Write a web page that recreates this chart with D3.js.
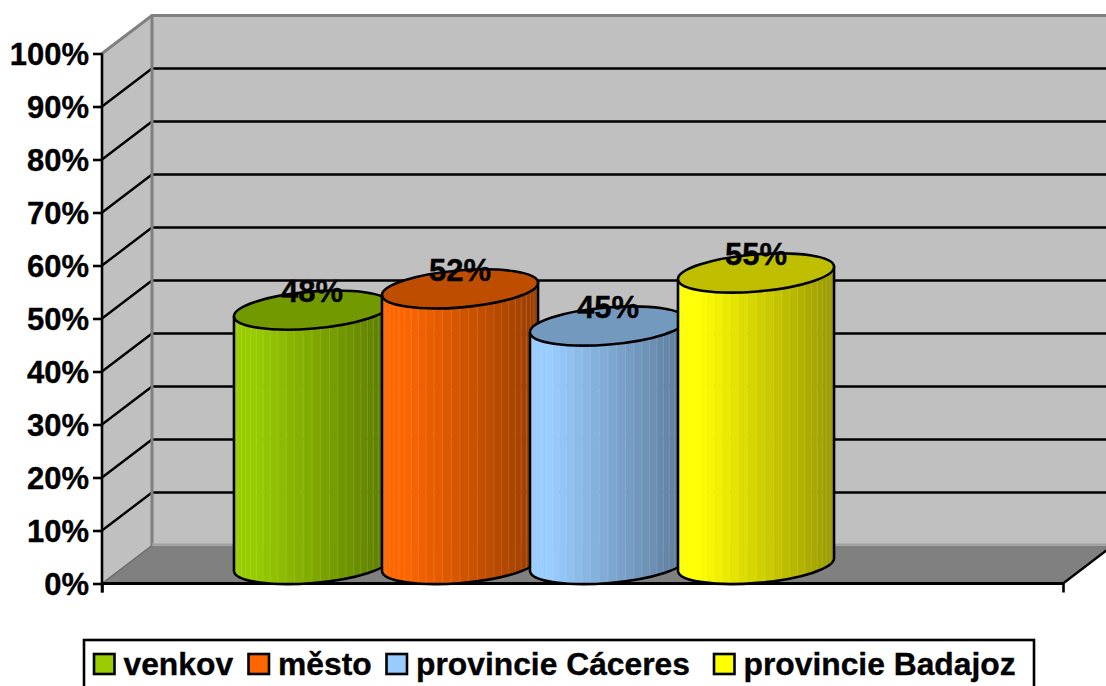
<!DOCTYPE html>
<html><head><meta charset="utf-8">
<script src="https://cdn.jsdelivr.net/npm/d3@7"></script>
<style>html,body{margin:0;padding:0;background:#fff;overflow:hidden}svg{display:block}text{font-family:"Liberation Sans",Arial,sans-serif;font-weight:bold;fill:#000;stroke:#000;stroke-width:.35px}</style>
</head><body><svg id="c" width="1106" height="686"></svg>
<script>
const seriesNames = ["venkov", "město", "provincie Cáceres", "provincie Badajoz"];
const seriesValues = [48, 52, 45, 55];
const seriesColors = ["#99CC00", "#FF6600", "#99CCFF", "#FFFF00"];
const yTickValues = [0, 10, 20, 30, 40, 50, 60, 70, 80, 90, 100];

const W = 1106, H = 686;
const depthX = 50, depthY = -38;
const svg = d3.select("#c");
const y = d3.scaleLinear().domain([0, 100]).range([583.5, 53.5]);
const xLeft = 102, xRight = 1063;
const bx = d3.scaleBand().domain(seriesNames).range([238, 830]).paddingInner(0).paddingOuter(0);
const rx = 78.3, ry = 18.5, tilt = 4.8 * Math.PI / 180;
const line = d3.line();

// walls and floor
svg.append("path").attr("d", line([[xLeft + depthX, y(100) + depthY], [W + 5, y(100) + depthY], [W + 5, y(0) + depthY], [xLeft + depthX, y(0) + depthY]])).attr("fill", "#C0C0C0");
svg.append("path").attr("d", line([[xLeft, y(100)], [xLeft + depthX, y(100) + depthY], [xLeft + depthX, y(0) + depthY], [xLeft, y(0)]])).attr("fill", "#C0C0C0");
svg.append("path").attr("d", line([[xLeft, y(0)], [xLeft + depthX, y(0) + depthY], [xRight + depthX, y(0) + depthY], [xRight, y(0)]])).attr("fill", "#808080");

// gridlines on the walls
svg.selectAll(".grid").data(yTickValues.filter(d => d > 0 && d < 100)).join("path").attr("class", "grid")
  .attr("d", d => line([[xLeft, y(d)], [xLeft + depthX, y(d) + depthY], [W + 5, y(d) + depthY]]))
  .attr("fill", "none").attr("stroke", "#000").attr("stroke-width", 2.4);

// wall edges
svg.append("path").attr("d", line([[xLeft, y(100)], [xLeft + depthX, y(100) + depthY], [W + 5, y(100) + depthY]])).attr("fill", "none").attr("stroke", "#808080").attr("stroke-width", 3);
svg.append("path").attr("d", line([[xLeft + depthX, y(100) + depthY], [xLeft + depthX, y(0) + depthY]])).attr("fill", "none").attr("stroke", "#808080").attr("stroke-width", 3);
svg.append("path").attr("d", line([[xLeft + depthX, y(0) + depthY - 1], [W, y(0) + depthY - 1]])).attr("fill", "none").attr("stroke", "#A0A0A0").attr("stroke-width", 2);
svg.append("path").attr("d", line([[xLeft, y(0)], [xLeft + depthX, y(0) + depthY]])).attr("fill", "none").attr("stroke", "#6a6a6a").attr("stroke-width", 1.5);
svg.append("path").attr("d", line([[xRight, y(0)], [xRight + depthX, y(0) + depthY]])).attr("fill", "none").attr("stroke", "#000").attr("stroke-width", 2.4);

// y axis
const yAxis = d3.axisLeft(y).tickValues(yTickValues).tickFormat(d => d + "%").tickSize(9).tickPadding(4);
const gy = svg.append("g").attr("transform", `translate(${xLeft},0)`).call(yAxis);
gy.selectAll("path.domain").attr("stroke", "#000").attr("stroke-width", 2.6).attr("d", `M0,${y(100)}V${y(0) + 9}`);
gy.selectAll(".tick line").attr("stroke", "#000").attr("stroke-width", 2.6);
gy.selectAll("text").attr("font-size", 31).attr("dy", "0.36em").style("font-family", '"Liberation Sans",Arial,sans-serif').style("font-weight", "bold");

// x axis
const xAxis = d3.axisBottom(d3.scaleLinear().domain([0, 1]).range([xLeft, xRight])).tickValues([0, 1]).tickFormat("").tickSize(9);
const gx = svg.append("g").attr("transform", `translate(0,${y(0)})`).call(xAxis);
gx.selectAll("path.domain").attr("stroke", "#000").attr("stroke-width", 3.2).attr("d", `M${xLeft},0H${xRight}`);
gx.selectAll(".tick line").attr("stroke", "#000").attr("stroke-width", 2.6);

// cylinders
const defs = svg.append("defs");
const ct = Math.cos(tilt), st = Math.sin(tilt);
const baseY = v => y(v) + depthY / 2;
const facets = d3.range(0, 29).map(i => i / 28);
seriesNames.forEach((name, i) => {
  const cx = bx(name) + bx.bandwidth() / 2;
  const yTop = baseY(seriesValues[i]), yBot = baseY(0);
  const lx = cx - rx * ct, rxx = cx + rx * ct;
  const body = `M${lx},${yTop + rx * st}L${lx},${yBot + rx * st}A${rx},${ry},${-4.8},0,0,${rxx},${yBot - rx * st}L${rxx},${yTop - rx * st}Z`;
  const top = `M${lx},${yTop + rx * st}A${rx},${ry},${-4.8},1,1,${rxx},${yTop - rx * st}A${rx},${ry},${-4.8},1,1,${lx},${yTop + rx * st}Z`;
  defs.append("clipPath").attr("id", "clip" + i).append("path").attr("d", body);
  const g = svg.append("g");
  const base = d3.color(seriesColors[i]);
  const shade = t => { const k = t < 0.13 ? 1 : 1 - 0.4 * (t - 0.13) / 0.87; return d3.rgb(base.r * k, base.g * k, base.b * k); };
  const clip = g.append("g").attr("clip-path", `url(#clip${i})`);
  const xs = facets.map(t => cx - rx * Math.cos(t * Math.PI));
  clip.selectAll("rect").data(xs.slice(0, -1)).join("rect")
    .attr("x", d => d).attr("y", yTop - rx).attr("height", yBot - yTop + 2 * rx)
    .attr("width", (d, j) => xs[j + 1] - d + 0.5)
    .attr("fill", (d, j) => shade(((xs[j] + xs[j + 1]) / 2 - lx) / (rxx - lx)));
  clip.selectAll("line").data(xs.slice(1, -1)).join("line")
    .attr("x1", d => d).attr("x2", d => d).attr("y1", yTop - rx).attr("y2", yBot + rx)
    .attr("stroke", "#fff").attr("stroke-opacity", 0.13).attr("stroke-width", 1);
  g.append("path").attr("d", body).attr("fill", "none").attr("stroke", "#000").attr("stroke-width", 2.6).attr("stroke-linejoin", "round");
  g.append("path").attr("d", top).attr("fill", d3.rgb(base.r * .75, base.g * .75, base.b * .75)).attr("stroke", "#000").attr("stroke-width", 2.6);
});

// data labels
svg.selectAll(".lab").data(seriesNames).join("text").attr("class", "lab")
  .attr("x", d => bx(d) + bx.bandwidth() / 2)
  .attr("y", (d, i) => baseY(seriesValues[i]) - 8)
  .attr("text-anchor", "middle").attr("font-size", 31)
  .text((d, i) => seriesValues[i] + "%");

// legend
const legend = svg.append("g");
legend.append("rect").attr("x", 84).attr("y", 640).attr("width", 950).attr("height", 60).attr("fill", "#fff").attr("stroke", "#000").attr("stroke-width", 2.6);
const legendStart = d3.scaleOrdinal().domain(seriesNames).range([94, 248.5, 386.5, 714]);
const items = legend.selectAll(".it").data(seriesNames).join("g").attr("class", "it").attr("transform", d => `translate(${legendStart(d)},654)`);
items.append("rect").attr("width", 20.5).attr("height", 20).attr("fill", (d, i) => seriesColors[i]).attr("stroke", "#000").attr("stroke-width", 2.6);
items.append("text").attr("x", 29.5).attr("y", 21).attr("font-size", 31.8).text(d => d);
</script></body></html>
